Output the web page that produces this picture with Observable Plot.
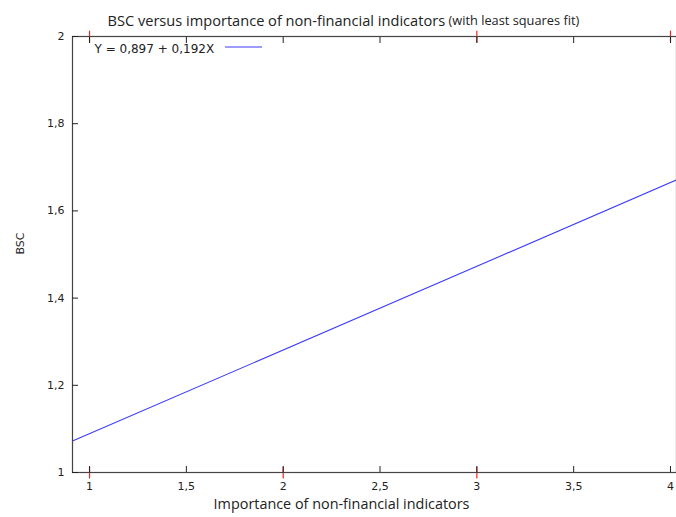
<!DOCTYPE html>
<html>
<head>
<meta charset="utf-8">
<script src="https://cdn.jsdelivr.net/npm/d3@7"></script>
<script src="https://cdn.jsdelivr.net/npm/@observablehq/plot@0.6"></script>
<style>
  html, body { margin: 0; padding: 0; background: #fff; }
  #chart { width: 676px; height: 517px; }
</style>
</head>
<body>
<div id="chart"></div>
<script>
const titleMain = "BSC versus importance of non-financial indicators";
const titleSub = "(with least squares fit)";
const xLabel = "Importance of non-financial indicators";
const yLabel = "BSC";
const legendLabel = "Y = 0,897 + 0,192X";
const intercept = 0.897;
const slope = 0.192;
const xDomain = [0.912, 4.031];
const yDomain = [1, 2];
const xTicks = [1, 1.5, 2, 2.5, 3, 3.5, 4];
const yTicks = [1, 1.2, 1.4, 1.6, 1.8, 2];
const pointX = [1, 2, 3, 1, 3, 4];
const pointY = [1, 1, 1, 2, 2, 2];

const points = pointX.map((x, i) => ({x, y: pointY[i]}));
const fit = xDomain.map(x => ({x, y: intercept + slope * x}));
const fmt = d => String(+d.toFixed(2)).replace(".", ",");
const spike = {draw(ctx, l) { ctx.moveTo(0, l / 2); ctx.lineTo(0, -l / 2); }};
const font = "DejaVu Sans, Verdana, sans-serif";
const titleFont = "Open Sans, sans-serif";
const lineColor = "#3a3aff";

const chart = Plot.plot({
  width: 676,
  height: 517,
  marginLeft: 72,
  marginRight: 0,
  marginTop: 36,
  marginBottom: 45,
  style: {fontFamily: font, fontSize: "10px", color: "#222", background: "#fff"},
  x: {domain: xDomain, ticks: xTicks},
  y: {domain: yDomain, ticks: yTicks},
  marks: [
    Plot.line(fit, {x: "x", y: "y", stroke: lineColor, strokeWidth: 1.1, clip: true}),
    Plot.vector(points, {x: "x", y: "y", length: 11, rotate: 0, anchor: "start", shape: spike, stroke: "#ff2222", strokeWidth: 1.2}),
    Plot.frame({stroke: "#444", strokeWidth: 1.2}),
    Plot.axisX(xTicks, {anchor: "bottom", tickSize: -6, tickPadding: 16, tickFormat: fmt, label: null, stroke: "#222", fontSize: 11}),
    Plot.axisX(xTicks, {anchor: "top", tickSize: -6, tickFormat: () => "", label: null, stroke: "#222"}),
    Plot.axisY(yTicks, {anchor: "left", tickSize: -6, tickPadding: 14, tickFormat: fmt, label: null, stroke: "#222", fontSize: 11}),
    Plot.text([xLabel], {frameAnchor: "bottom", dx: -33, dy: 36, fontSize: 14.4, fontFamily: titleFont, fill: "#222"}),
    Plot.text([yLabel], {frameAnchor: "left", dx: -52, rotate: -90, fontSize: 11, fill: "#222"}),
    Plot.text([titleMain], {frameAnchor: "top-left", dx: 35, dy: -21, fontSize: 14.6, fontFamily: titleFont, fill: "#222", textAnchor: "start"}),
    Plot.text([titleSub], {frameAnchor: "top-left", dx: 376, dy: -21, fontSize: 12.8, fontFamily: titleFont, fill: "#222", textAnchor: "start"}),
    Plot.text([legendLabel], {frameAnchor: "top-left", dx: 22, dy: 8, fontSize: 12, fill: "#222", textAnchor: "start"})
  ]
});
document.getElementById("chart").appendChild(chart);

// legend sample line
d3.select(chart).append("line")
  .attr("x1", 225).attr("x2", 262)
  .attr("y1", 47).attr("y2", 47)
  .attr("stroke", lineColor).attr("stroke-width", 1.1);
</script>
</body>
</html>
